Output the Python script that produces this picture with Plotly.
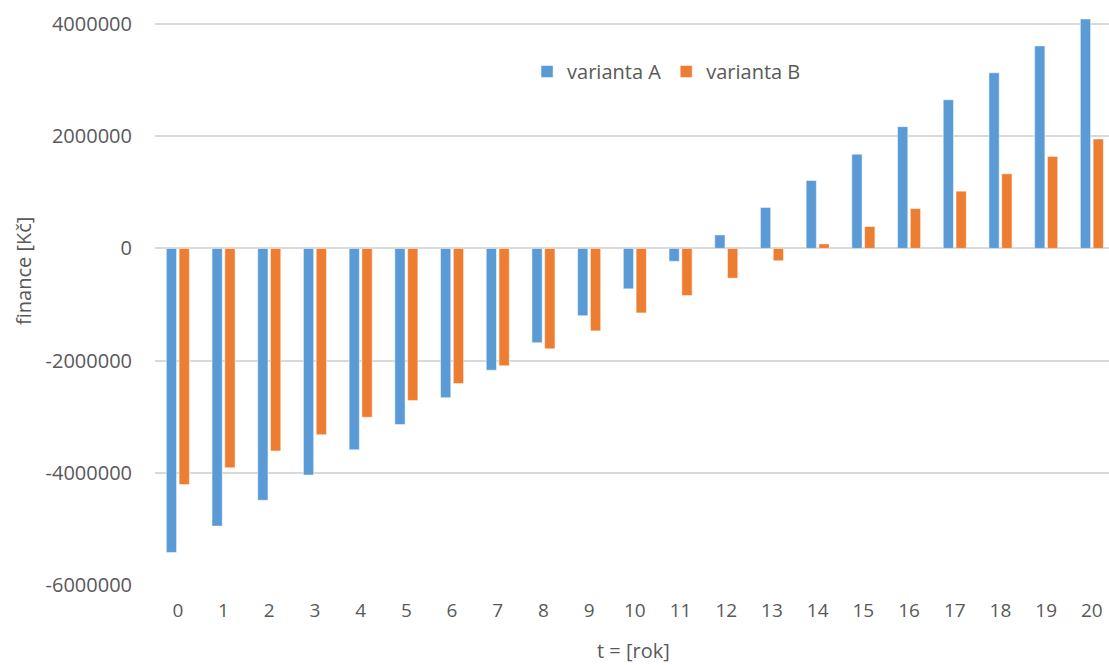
import plotly.graph_objects as go

years = [str(i) for i in range(21)]
varianta_a = [-5420000, -4950000, -4490000, -4040000, -3590000, -3140000, -2660000,
              -2170000, -1680000, -1200000, -720000, -230000, 240000, 730000,
              1210000, 1680000, 2170000, 2650000, 3130000, 3610000, 4090000]
varianta_b = [-4210000, -3910000, -3610000, -3320000, -3010000, -2710000, -2410000,
              -2090000, -1790000, -1470000, -1150000, -840000, -530000, -220000,
              80000, 390000, 710000, 1020000, 1330000, 1640000, 1950000]
ytick_vals = [-6000000, -4000000, -2000000, 0, 2000000, 4000000]
ytick_text = ["-6000000", "-4000000", "-2000000", "0", "2000000", "4000000"]

GRAY = "#595959"
FONT = "Open Sans"

PLOT_H = 568  # px for y range [-6M, 4.125M]
BOTTOM = 585  # page y of the plot bottom

fig = go.Figure()
fig.add_trace(go.Bar(x=years, y=varianta_a, name="varianta A",
                     marker=dict(color="#5b9bd5", line=dict(color="rgba(255,255,255,0.6)", width=0.8))))
fig.add_trace(go.Bar(x=years, y=varianta_b, name="varianta B",
                     marker=dict(color="#ed7d31", line=dict(color="rgba(255,255,255,0.6)", width=0.8))))

fig.update_layout(
    width=1109, height=665,
    margin=dict(l=155, r=0, t=665 - 80 - PLOT_H, b=80),
    paper_bgcolor="white", plot_bgcolor="white",
    barmode="group", bargap=0.44, bargroupgap=0.2,
    font=dict(family=FONT, color=GRAY, size=20),
    showlegend=True,
    legend=dict(orientation="h", x=0.39, y=(BOTTOM - 52) / PLOT_H, xanchor="left", yanchor="top",
                font=dict(family=FONT, size=20, color=GRAY),
                bgcolor="rgba(0,0,0,0)", itemwidth=30, traceorder="normal"),
    xaxis=dict(type="category", range=[-0.5, 20.375], showgrid=False, zeroline=False,
               showline=False, ticks="", tickfont=dict(family=FONT, size=19, color=GRAY),
               ticklabelstandoff=12),
    yaxis=dict(range=[-6000000, 4125000], tickvals=ytick_vals, ticktext=ytick_text,
               showgrid=True, gridcolor="#d9d9d9", gridwidth=1.5,
               zeroline=True, zerolinecolor="#d9d9d9", zerolinewidth=1.5,
               showline=False, ticks="", tickfont=dict(family=FONT, size=20, color=GRAY),
               ticklabelstandoff=22),
    annotations=[
        dict(text="finance [Kč]", xref="paper", yref="paper", x=(23 - 155) / 954, y=(BOTTOM - 271) / PLOT_H,
             xanchor="center", yanchor="middle", textangle=-90, showarrow=False,
             font=dict(family=FONT, size=20, color=GRAY)),
        dict(text="t = [rok]", xref="paper", yref="paper", x=(633 - 155) / 954, y=-(650 - BOTTOM) / PLOT_H,
             xanchor="center", yanchor="middle", showarrow=False,
             font=dict(family=FONT, size=20, color=GRAY)),
    ],
)

fig.write_html(
    "out.html",
    config={"displayModeBar": False},
    post_script=("document.documentElement.style.overflow='hidden';"
                 "document.body.style.margin='0';document.body.style.overflow='hidden';"),
)
